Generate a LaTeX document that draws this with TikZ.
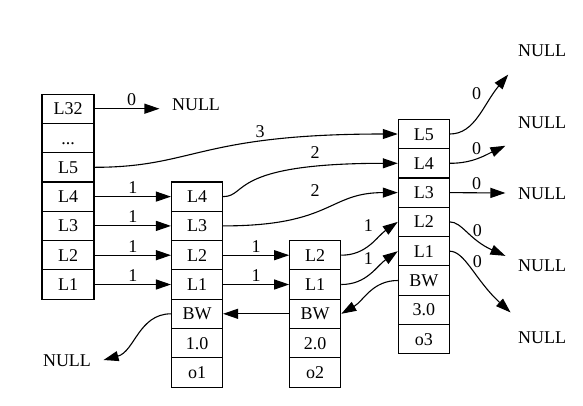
\documentclass[tikz,border=0pt]{standalone}
\usepackage{fontspec}
\setmainfont{Liberation Serif}
\usetikzlibrary{arrows.meta}
\tikzset{
    cell/.style={draw,minimum width=51pt,minimum height=29.3pt,inner sep=0pt,text height=12pt,text depth=0pt},%表格的一格
    hcell/.style={cell,minimum width=52pt},
    lab/.style={inner sep=2.5pt,text height=12pt,text depth=0pt},%边上的数字
    nul/.style={minimum width=72pt,minimum height=48pt,inner sep=0pt,text height=12pt,text depth=0pt}
}

\begin{document}
\begin{tikzpicture}[x=1pt,y=-1pt,>={Triangle[length=15pt,width=10pt]},line width=1.1pt,font=\fontsize{18}{20}\selectfont]
        \useasboundingbox (0,0) rectangle (583,405);
        %表头
        \node[hcell] (h32) at (68,108.7) {L32};
        \node[hcell] (hd) at (68,138) {...};
        \foreach \k [count=\i from 2] in {5,4,3,2,1}
        {
            \node[hcell] (h\k) at (68,{108.7+29.3*\i}) {L\k};
        }
        %三个节点
        \foreach \n/\t [count=\i from 3] in {4/L4,3/L3,2/L2,1/L1,bw/BW,s/1.0,o/o1}
        {
            \node[cell] (a\n) at (197,{108.7+29.3*\i}) {\t};
        }
        \foreach \n/\t [count=\i from 5] in {2/L2,1/L1,bw/BW,s/2.0,o/o2}
        {
            \node[cell] (b\n) at (315.2,{108.7+29.3*\i}) {\t};
        }
        \foreach \n/\t [count=\i from 0] in {5/L5,4/L4,3/L3,2/L2,1/L1,bw/BW,s/3.0,o/o3}
        {
            \node[cell] (c\n) at (423.8,{134+29.3*\i}) {\t};
        }
        %NULL
        \node[nul] (n0) at (196,104) {NULL};
        \node[nul] (n5) at (542,50) {NULL};
        \node[nul] (n4) at (542,122) {NULL};
        \node[nul] (n3) at (542,193) {NULL};
        \node[nul] (n2) at (542,265) {NULL};
        \node[nul] (n1) at (542,337) {NULL};
        \node[nul] (nb) at (67,360) {NULL};
        %前进指针
        \draw[->] (h32.east)--(h32.east -| n0.west) node[lab,pos=0.57,above]{0};
        \foreach \k in {4,3,2,1}
        {
            \draw[->] (h\k.east)--(a\k.west) node[lab,midway,above]{1};
        }
        \foreach \k in {2,1}
        {
            \draw[->] (a\k.east)--(b\k.west) node[lab,midway,above]{1};
        }
        \draw[->] (h5.east) .. controls +(100,0) and +(-200,0) .. (c5.west) node[lab] at (260,131.7){3};
        \draw[->] (a4.east) .. controls +(25,0) and +(-170,0) .. (c4.west) node[lab] at (315,152.7){2};
        \draw[->] (a3.east) .. controls +(110,0) and +(-70,0) .. (c3.west) node[lab] at (315,190.7){2};
        \draw[->] (b2.east) to[out=0,in=215] (c2.west) node[lab] at (368.3,225){1};
        \draw[->] (b1.east) to[out=0,in=215] (c1.west) node[lab] at (368.3,258.3){1};
        \draw[->] (c5.east) .. controls +(25,0) and +(-25,30) .. (n5.216) node[lab] at (476.7,93.3){0};
        \draw[->] (c4.east) to[out=0,in=205] (n4.213) node[lab] at (476.7,148.3){0};
        \draw[->] (c3.east)--(n3.west) node[lab] at (476.7,183.3){0};
        \draw[->] (c2.east) .. controls +(12,0) and +(-36,-16) .. (n2.166) node[lab] at (477.3,230){0};
        \draw[->] (c1.east) .. controls +(15,0) and +(-35,-32) .. (n1.142) node[lab] at (477.3,261.7){0};
        %后退指针
        \draw[->] (cbw.west) to[out=180,in=30] (bbw.east);
        \draw[->] (bbw.west)--(abw.east);
        \draw[->] (abw.west) to[out=180,in=15] (nb.east);
\end{tikzpicture}
\end{document}
